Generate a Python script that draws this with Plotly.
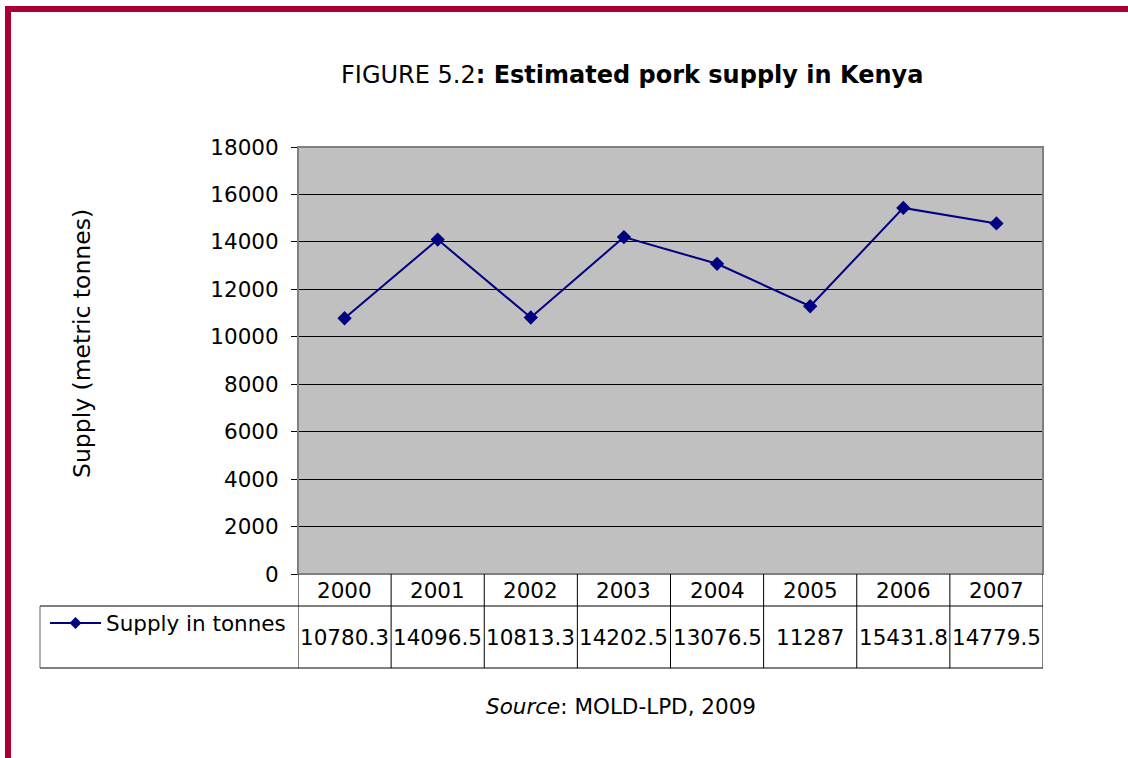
import plotly.graph_objects as go

years = ["2000", "2001", "2002", "2003", "2004", "2005", "2006", "2007"]
supply = [10780.3, 14096.5, 10813.3, 14202.5, 13076.5, 11287, 15431.8, 14779.5]
supply_labels = ["10780.3", "14096.5", "10813.3", "14202.5", "13076.5", "11287", "15431.8", "14779.5"]
y_ticks = [0, 2000, 4000, 6000, 8000, 10000, 12000, 14000, 16000, 18000]
series_name = "Supply in tonnes"

W, H = 1128, 758
FONT = "DejaVu Sans"
FS = 21.5
NAVY = "#000080"


def px(x):
    return x / W


def py(y):
    return 1 - y / H


L, R, T, B = 298, 1043, 147, 574
ROW1, ROW2 = 606, 668

fig = go.Figure()
fig.add_trace(go.Scatter(
    x=years, y=supply, mode="lines+markers", name=series_name, showlegend=False,
    line=dict(color=NAVY, width=2),
    marker=dict(symbol="diamond", size=11, color=NAVY),
))

shapes = []
# maroon page border
shapes.append(dict(type="rect", xref="paper", yref="paper", x0=px(5), x1=px(1135), y0=py(12), y1=py(6),
                   fillcolor="#A90034", line=dict(width=0), layer="above"))
shapes.append(dict(type="rect", xref="paper", yref="paper", x0=px(5), x1=px(11), y0=py(765), y1=py(6),
                   fillcolor="#A90034", line=dict(width=0), layer="above"))
# plot area border
shapes.append(dict(type="rect", xref="paper", yref="paper", x0=px(L), x1=px(R), y0=py(B), y1=py(T),
                   line=dict(color="#808080", width=2), layer="above"))
# table horizontal lines
for yy in (ROW1, ROW2):
    shapes.append(dict(type="line", xref="paper", yref="paper", x0=px(40), x1=px(R), y0=py(yy), y1=py(yy),
                       line=dict(color="black", width=1)))
shapes.append(dict(type="line", xref="paper", yref="paper", x0=px(40), x1=px(40), y0=py(ROW2), y1=py(ROW1),
                   line=dict(color="#606060", width=1)))
# table vertical lines at category boundaries
for i in range(len(years) + 1):
    shapes.append(dict(type="line", xref="x", yref="paper", x0=i - 0.5, x1=i - 0.5, y0=py(ROW2), y1=py(B),
                       line=dict(color="black", width=1)))
# legend key: line with diamond
shapes.append(dict(type="line", xref="paper", yref="paper", x0=px(50), x1=px(101), y0=py(623), y1=py(623),
                   line=dict(color=NAVY, width=2)))
shapes.append(dict(type="path", xref="paper", yref="paper",
                   path=f"M {px(69.5)},{py(623)} L {px(75.5)},{py(617)} L {px(81.5)},{py(623)} "
                        f"L {px(75.5)},{py(629)} Z",
                   fillcolor=NAVY, line=dict(color=NAVY, width=0)))

annotations = []
for i, (yr, lab) in enumerate(zip(years, supply_labels)):
    annotations.append(dict(x=i, y=py(590), xref="x", yref="paper", text=yr, showarrow=False,
                            font=dict(family=FONT, size=FS, color="black"), xanchor="center", yanchor="middle"))
    annotations.append(dict(x=i, y=py(637), xref="x", yref="paper", text=lab, showarrow=False,
                            font=dict(family=FONT, size=FS, color="black"), xanchor="center", yanchor="middle"))
annotations.append(dict(x=px(104), y=py(623), xref="paper", yref="paper", text=series_name, showarrow=False,
                        font=dict(family=FONT, size=FS, color="black"), xanchor="left", yanchor="middle"))
annotations.append(dict(x=px(632), y=py(75), xref="paper", yref="paper",
                        text="FIGURE 5.2<b>: Estimated pork supply in Kenya</b>", showarrow=False,
                        font=dict(family=FONT, size=24, color="black"), xanchor="center", yanchor="middle"))
annotations.append(dict(x=px(82), y=py(344), xref="paper", yref="paper", text="Supply (metric tonnes)",
                        showarrow=False, textangle=-90,
                        font=dict(family=FONT, size=23.5, color="black"), xanchor="center", yanchor="middle"))
annotations.append(dict(x=px(621), y=py(706), xref="paper", yref="paper", text="<i>Source</i>: MOLD-LPD, 2009",
                        showarrow=False, font=dict(family=FONT, size=FS, color="black"),
                        xanchor="center", yanchor="middle"))

fig.update_layout(
    width=W, height=H, margin=dict(l=0, r=0, t=0, b=0, pad=0, autoexpand=False),
    paper_bgcolor="white", plot_bgcolor="#C0C0C0",
    shapes=shapes, annotations=annotations,
    showlegend=False,
    xaxis=dict(type="category", domain=[px(L), px(R)], range=[-0.5, len(years) - 0.5], showticklabels=False,
               showgrid=False, zeroline=False, ticks="", automargin=False),
    yaxis=dict(domain=[py(B), py(T)], range=[0, 18000], tickvals=y_ticks, tickformat="d",
               showgrid=True, gridcolor="black", gridwidth=1, zeroline=False, automargin=False,
               showline=True, linecolor="black", linewidth=1, ticks="outside", ticklen=6,
               ticklabelstandoff=8,
               tickcolor="black", tickfont=dict(family=FONT, size=FS, color="black")),
)
fig.write_html("out.html", config={"displayModeBar": False},
               post_script="document.body.style.margin='0';")
